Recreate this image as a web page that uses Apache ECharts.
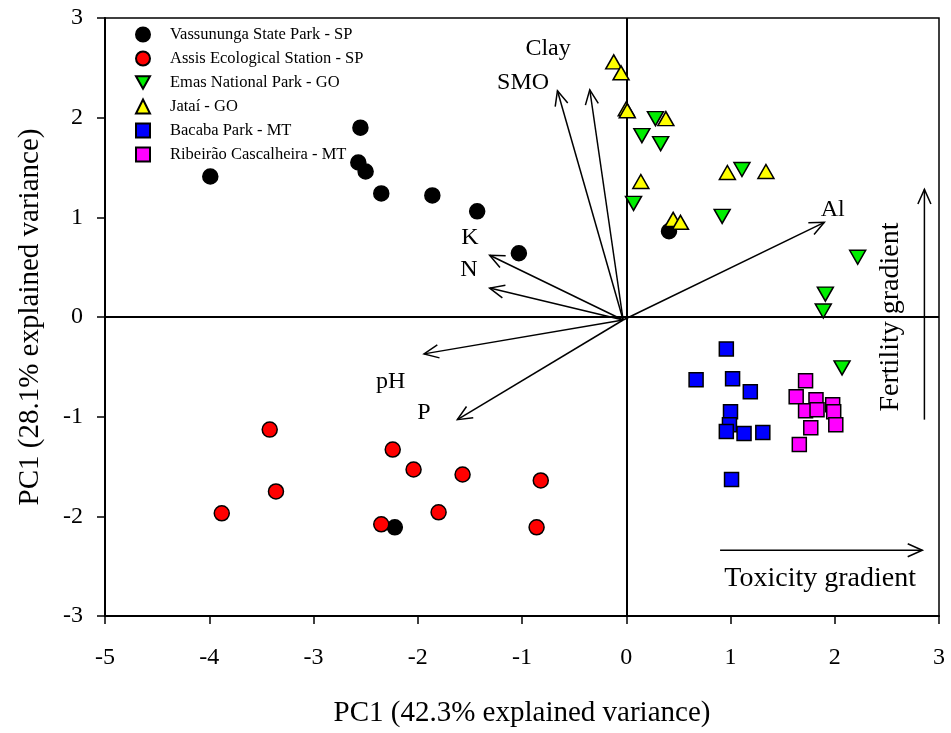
<!DOCTYPE html>
<html>
<head>
<meta charset="utf-8">
<script src="https://cdn.jsdelivr.net/npm/echarts@6/dist/echarts.min.js"></script>
<style>html,body{margin:0;padding:0;background:#fff;}#c{width:951px;height:733px;}</style>
</head>
<body>
<div id="c"></div>
<script>
// ---- data ----
const seriesNames = ['Vassununga State Park - SP','Assis Ecological Station - SP','Emas National Park - GO','Jataí - GO','Bacaba Park - MT','Ribeirão Cascalheira - MT'];
const vassununga = [[-3.99,1.41],[-2.55,1.90],[-2.57,1.55],[-2.50,1.46],[-2.35,1.24],[-1.86,1.22],[-1.43,1.06],[-1.03,0.64],[0.41,0.86],[-2.22,-2.11]];
const assis = [[-3.42,-1.13],[-3.36,-1.75],[-3.88,-1.97],[-2.24,-1.33],[-2.04,-1.53],[-1.57,-1.58],[-0.82,-1.64],[-1.80,-1.96],[-2.35,-2.08],[-0.86,-2.11]];
const emas = [[0.28,1.99],[0.15,1.82],[0.33,1.74],[1.11,1.48],[0.07,1.14],[0.92,1.01],[2.22,0.60],[1.91,0.23],[1.89,0.06],[2.07,-0.51]];
const jatai = [[-0.12,2.56],[-0.05,2.45],[0.00,2.09],[0.01,2.07],[0.38,1.99],[0.14,1.36],[0.97,1.45],[1.34,1.46],[0.45,0.98],[0.52,0.95]];
const bacaba = [[0.96,-0.32],[0.67,-0.63],[1.02,-0.62],[1.19,-0.75],[1.00,-0.95],[0.99,-1.08],[0.96,-1.15],[1.13,-1.17],[1.31,-1.16],[1.01,-1.63]];
const ribeirao = [[1.72,-0.64],[1.63,-0.80],[1.82,-0.83],[1.98,-0.88],[1.72,-0.94],[1.83,-0.93],[1.99,-0.95],[2.01,-1.08],[1.77,-1.11],[1.66,-1.28]];

const vectorOrigin = [-0.03,-0.03];
const vectorNames = ['Clay','SMO','K','N','pH','P','Al'];
const vectorTips = [[-0.35,2.28],[-0.66,2.27],[-1.31,0.62],[-1.31,0.29],[-1.94,-0.37],[-1.62,-1.03],[1.90,0.95]];
const vectorLabelAt = [[-0.75,2.69],[-0.99,2.35],[-1.50,0.80],[-1.51,0.47],[-2.26,-0.65],[-1.94,-0.96],[1.98,1.08]];

const gradientNames = ['Fertility gradient','Toxicity gradient'];
const gradientArrows = [[2.86,-1.03,2.86,1.28],[0.90,-2.34,2.84,-2.34]];
const gradientLabelAt = [[2.54,0.0],[1.86,-2.63]];

const xTicks = {min:-5,max:3,step:1};
const yTicks = {min:-3,max:3,step:1};
const xTitle = 'PC1 (42.3% explained variance)';
const yTitle = 'PC1 (28.1% explained variance)';

// ---- chart ----
const FONT = 'Liberation Serif';
const chart = echarts.init(document.getElementById('c'), null, {renderer:'canvas'});

function arrowItem(params, api){
  const s = api.coord([api.value(0), api.value(1)]);
  const e = api.coord([api.value(2), api.value(3)]);
  const ang = Math.atan2(e[1]-s[1], e[0]-s[0]);
  const L = 16, a = 0.42;
  const p1 = [e[0]-L*Math.cos(ang-a), e[1]-L*Math.sin(ang-a)];
  const p2 = [e[0]-L*Math.cos(ang+a), e[1]-L*Math.sin(ang+a)];
  return {type:'group', children:[
    {type:'line', shape:{x1:s[0],y1:s[1],x2:e[0],y2:e[1]}, style:{stroke:'#000',lineWidth:1.5}},
    {type:'polyline', shape:{points:[p1,e,p2]}, style:{stroke:'#000',fill:null,lineWidth:1.5}}
  ]};
}
function textItem(rot, size){
  return function(params, api){
    const p = api.coord([api.value(0), api.value(1)]);
    return {type:'text', x:p[0], y:p[1], rotation:rot,
      style:{text: api.value(2), fill:'#000', font:size+'px "'+FONT+'"', align:'center', verticalAlign:'middle'}};
  };
}

const downTri = 'path://M0,0 L10,0 L5,9 Z';
function sty(c){ return {color:c, opacity:1, borderColor:'#000', borderWidth:1.5}; }
const option = {
  backgroundColor:'#fff',
  animation:false,
  grid:{left:105,right:12,top:18,bottom:111,show:true,borderColor:'#000',borderWidth:1.5,backgroundColor:'transparent'},
  legend:{orient:'vertical',left:130,top:21,itemWidth:14,itemHeight:14,itemGap:7,
    data:[{name:seriesNames[0],icon:'circle'},{name:seriesNames[1],icon:'circle'},{name:seriesNames[2],icon:downTri},
          {name:seriesNames[3],icon:'triangle'},{name:seriesNames[4],icon:'rect'},{name:seriesNames[5],icon:'rect'}],
    textStyle:{fontFamily:FONT,fontSize:16.5,lineHeight:14,color:'#000',padding:[0,0,0,15]}},
  xAxis:{type:'value',min:xTicks.min,max:xTicks.max,interval:xTicks.step,
    name:xTitle,nameLocation:'middle',nameGap:83,nameTextStyle:{fontFamily:FONT,fontSize:29,color:'#000'},
    axisLine:{onZero:false,lineStyle:{color:'#000',width:2}},
    axisTick:{show:true,inside:false,length:8,lineStyle:{color:'#000',width:1.5}},
    axisLabel:{fontFamily:FONT,fontSize:24,color:'#000',margin:30},
    splitLine:{show:false}},
  yAxis:{type:'value',min:yTicks.min,max:yTicks.max,interval:yTicks.step,
    name:yTitle,nameLocation:'middle',nameGap:60,nameRotate:90,nameTextStyle:{fontFamily:FONT,fontSize:29,color:'#000'},
    axisLine:{onZero:false,lineStyle:{color:'#000',width:2}},
    axisTick:{show:true,inside:false,length:8,lineStyle:{color:'#000',width:1.5}},
    axisLabel:{fontFamily:FONT,fontSize:24,color:'#000',margin:22},
    splitLine:{show:false}},
  series:[
    {type:'custom', name:'zero', silent:true, z:1, data:[], renderItem:()=>null,
      markLine:{silent:true,symbol:['none','none'],label:{show:false},lineStyle:{color:'#000',width:2,type:'solid'},
        data:[{xAxis:0},{yAxis:0}]}},
    {type:'custom', name:'vectors', z:2, silent:true,
      encode:{x:[0,2],y:[1,3]},
      data: vectorTips.map(t=>[vectorOrigin[0],vectorOrigin[1],t[0],t[1]]), renderItem:arrowItem},
    {type:'custom', name:'gradients', z:2, silent:true,
      encode:{x:[0,2],y:[1,3]},
      data: gradientArrows, renderItem:arrowItem},
    {type:'custom', name:'vlabels', z:3, silent:true, encode:{x:0,y:1},
      data: vectorLabelAt.map((p,i)=>[p[0],p[1],vectorNames[i]]), renderItem:textItem(0,24)},
    {type:'custom', name:'glabel1', z:3, silent:true, encode:{x:0,y:1},
      data: [[gradientLabelAt[0][0],gradientLabelAt[0][1],gradientNames[0]]], renderItem:textItem(Math.PI/2,28)},
    {type:'custom', name:'glabel2', z:3, silent:true, encode:{x:0,y:1},
      data: [[gradientLabelAt[1][0],gradientLabelAt[1][1],gradientNames[1]]], renderItem:textItem(0,28)},
    {type:'scatter',name:seriesNames[0],data:vassununga,symbol:'circle',symbolSize:15,z:5,itemStyle:sty('#000000')},
    {type:'scatter',name:seriesNames[1],data:assis,symbol:'circle',symbolSize:15,z:5,itemStyle:sty('#ff0000')},
    {type:'scatter',name:seriesNames[2],data:emas,symbol:downTri,symbolSize:[16,14],z:5,itemStyle:sty('#00ee00')},
    {type:'scatter',name:seriesNames[3],data:jatai,symbol:'triangle',symbolSize:[16,14],z:5,itemStyle:sty('#ffff00')},
    {type:'scatter',name:seriesNames[4],data:bacaba,symbol:'rect',symbolSize:14,z:5,itemStyle:sty('#0000ff')},
    {type:'scatter',name:seriesNames[5],data:ribeirao,symbol:'rect',symbolSize:14,z:5,itemStyle:sty('#ff00ff')}
  ]
};
chart.setOption(option);
</script>
</body>
</html>
